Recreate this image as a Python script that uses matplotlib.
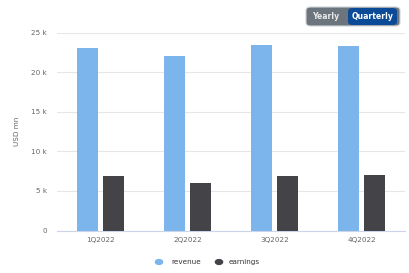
import matplotlib.pyplot as plt
import numpy as np
from matplotlib.patches import FancyBboxPatch

quarters = ['1Q2022', '2Q2022', '3Q2022', '4Q2022']
revenue = [23070, 22060, 23490, 23320]
earnings = [6890, 6040, 6890, 6980]
y_ticks = [0, 5000, 10000, 15000, 20000, 25000]
y_tick_labels = ['0', '5 k', '10 k', '15 k', '20 k', '25 k']

W, H = 409, 273
fig = plt.figure(figsize=(W / 100, H / 100), dpi=100)
fig.patch.set_facecolor('white')

ax = fig.add_axes([57.2 / W, (H - 230.5) / H, 348 / W, (230.5 - 32.7) / H])
x = np.arange(len(quarters))
bw = 0.238
ax.bar(x - 0.149, revenue, bw, color='#7cb5ec', label='revenue', zorder=3)
ax.bar(x + 0.149, earnings, bw, color='#434348', label='earnings', zorder=3)

ax.set_xlim(-0.5, len(quarters) - 0.5)
ax.set_ylim(0, 25000)
ax.set_yticks(y_ticks)
ax.set_yticklabels(y_tick_labels)
ax.set_xticks(x)
ax.set_xticklabels(quarters)
ax.tick_params(axis='both', length=0, labelsize=5.2, colors='#666666')
ax.tick_params(axis='y', pad=7.2)
ax.tick_params(axis='x', pad=5)
ax.grid(axis='y', color='#e6e6e6', linewidth=0.8, zorder=0)
for s in ['top', 'right', 'left']:
    ax.spines[s].set_visible(False)
ax.spines['bottom'].set_color('#ccd6eb')
ax.spines['bottom'].set_linewidth(0.8)
ax.set_ylabel('USD mn', fontsize=5.2, color='#666666')
ax.yaxis.set_label_coords((20 - 57.2) / 348, 0.5)

leg = fig.legend(loc='center', bbox_to_anchor=(211 / W, (H - 262) / H), ncol=2,
                 frameon=False, fontsize=5.2, handlelength=0.8, handleheight=0.8,
                 columnspacing=2.6, handletextpad=0.5)
for h in leg.legend_handles:
    h.set_visible(False)
for t in leg.get_texts():
    t.set_color('#333333')
# round legend markers
lx = [159, 219]
for cx, c in zip(lx, ['#7cb5ec', '#434348']):
    fig.add_artist(plt.Circle((cx / W, (H - 262) / H), 3.6 / W, color=c,
                              transform=fig.transFigure))

# Yearly / Quarterly toggle
outer = FancyBboxPatch((306 / W, (H - 26) / H), 94 / W, 19 / H,
                       boxstyle='round,pad=0,rounding_size=0.012',
                       transform=fig.transFigure, facecolor='#6c757d',
                       edgecolor='#d0d4d8', linewidth=0.8)
inner = FancyBboxPatch((348 / W, (H - 25) / H), 49 / W, 17 / H,
                       boxstyle='round,pad=0,rounding_size=0.012',
                       transform=fig.transFigure, facecolor='#0a4a96',
                       edgecolor='none')
fig.add_artist(outer)
fig.add_artist(inner)
fig.text(326 / W, (H - 16.5) / H, 'Yearly', fontsize=5.6, color='#e8e8e8',
         fontweight='bold', ha='center', va='center')
fig.text(372.5 / W, (H - 16.5) / H, 'Quarterly', fontsize=5.6, color='white',
         fontweight='bold', ha='center', va='center')

fig.savefig('out.png', dpi=100)
